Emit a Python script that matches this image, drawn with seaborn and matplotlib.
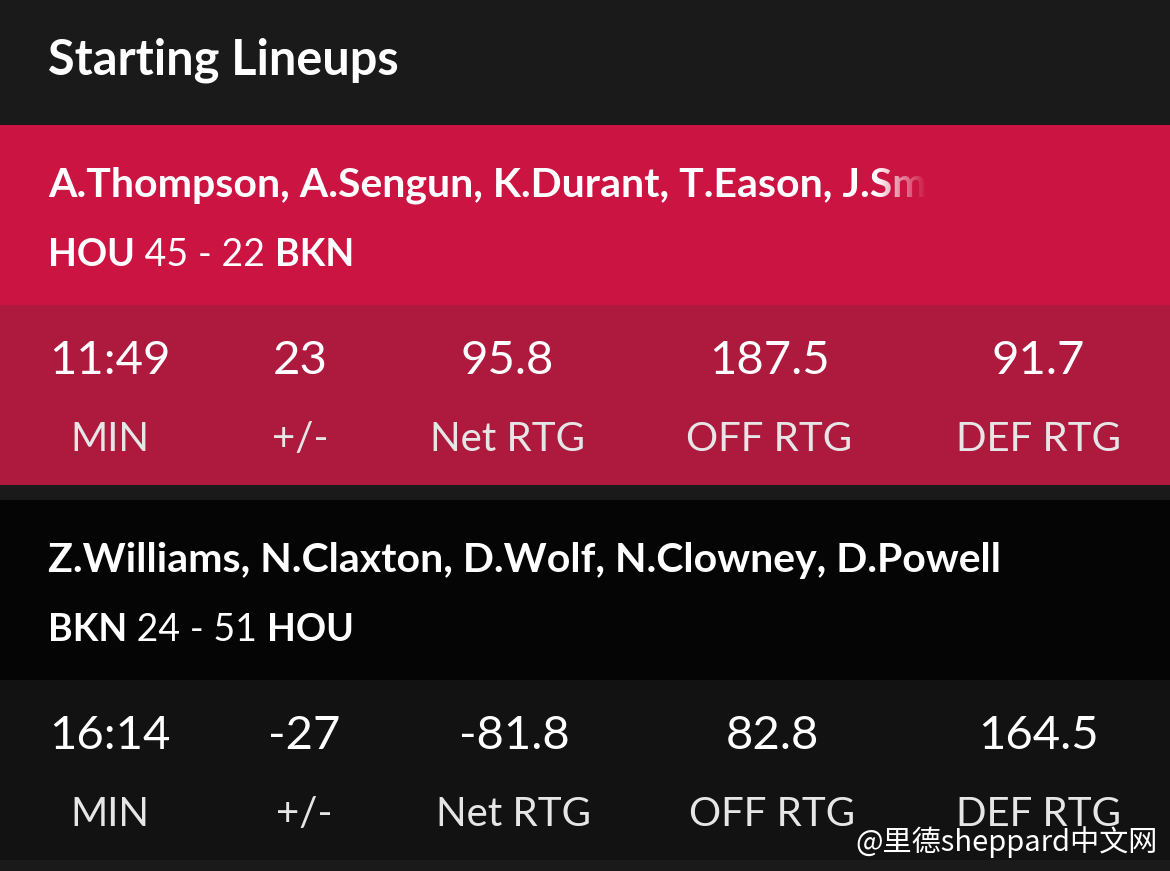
import matplotlib
matplotlib.use("Agg")
import matplotlib.pyplot as plt
import seaborn as sns
import numpy as np
from matplotlib.colors import LinearSegmentedColormap

sns.set_theme(style="white")
plt.rcParams['font.family'] = ['Lato', 'Noto Sans CJK SC', 'DejaVu Sans']

title = "Starting Lineups"
lineups = ["A.Thompson, A.Sengun, K.Durant, T.Eason, J.Smith",
           "Z.Williams, N.Claxton, D.Wolf, N.Clowney, D.Powell"]
teams = [("HOU", "45", "22", "BKN"), ("BKN", "24", "51", "HOU")]
stat_labels = ["MIN", "+/-", "Net RTG", "OFF RTG", "DEF RTG"]
stat_values = [["11:49", "23", "95.8", "187.5", "91.7"],
               ["16:14", "-27", "-81.8", "82.8", "164.5"]]
col_x = [[110, 300, 507, 769, 1038], [110, 304, 514, 772, 1038]]

fig = plt.figure(figsize=(11.7, 8.71), dpi=100)
ax = fig.add_axes([0, 0, 1, 1])
ax.set_xlim(0, 1170); ax.set_ylim(871, 0); ax.axis('off')

bands = [(0, 125, '#1a1a1a'), (125, 305, '#cc1442'), (305, 485, '#ae1a3d'),
         (485, 500, '#1a1a1a'), (500, 680, '#050505'), (680, 860, '#121212'),
         (860, 871, '#1a1a1a')]
for y0, y1, c in bands:
    ax.axhspan(y0, y1, color=c, lw=0)

ax.text(48, 60, title, color='white', fontsize=35, fontweight='bold', va='center')

fig.canvas.draw()
r = fig.canvas.get_renderer()
for i, y0 in enumerate([125, 500]):
    ax.text(48, y0 + 60, lineups[i], color='white', fontsize=29.5, fontweight='bold', va='center')
    t1, s1, s2, t2 = teams[i]
    yy = y0 + 130
    x = 48
    for txt, w in [(t1, 'bold'), (" " + s1 + " - " + s2 + " ", 'normal'), (t2, 'bold')]:
        tt = ax.text(x, yy, txt, color='white', fontsize=27, fontweight=w, va='center')
        bb = tt.get_window_extent(renderer=r)
        x += bb.width
    for j in range(5):
        ax.text(col_x[i][j], y0 + 236, stat_values[i][j], color='white', fontsize=34, ha='center', va='center')
        ax.text(col_x[i][j], y0 + 314, stat_labels[j], color='#e6e6e6', fontsize=29, ha='center',
                va='center', fontweight='normal')

# fade over truncated name
grad = np.linspace(0, 1, 100).reshape(1, -1)
cm = LinearSegmentedColormap.from_list('f', [(0.8, 0.08, 0.26, 0), (0.8, 0.08, 0.26, 0.97)])
ax.imshow(cm(grad), extent=(876, 925, 212, 158), aspect='auto', zorder=5)
ax.axvspan(925, 1170, ymin=(871-212)/871, ymax=(871-158)/871, color='#cc1442', lw=0, zorder=5)

ax.text(1158, 842, "@里德sheppard中文网", color='white', fontsize=21, ha='right', va='center',
        family=['Noto Sans CJK SC', 'DejaVu Sans'], zorder=6)
ax.set_xlim(0, 1170); ax.set_ylim(871, 0)
fig.savefig("out.png", dpi=100)
